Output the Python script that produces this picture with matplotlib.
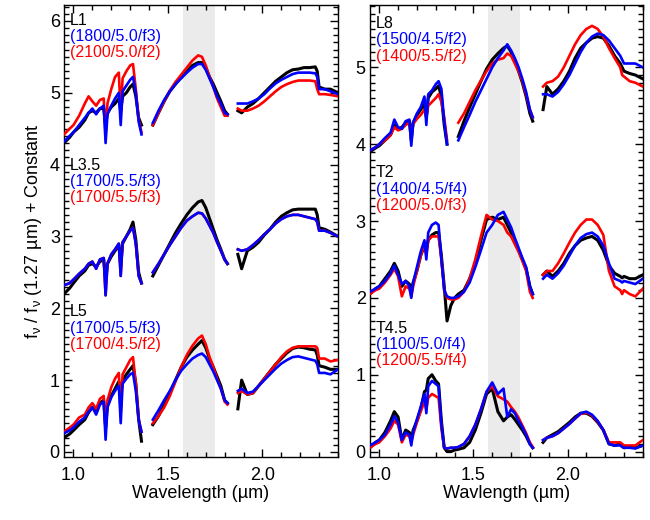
import numpy as np
import matplotlib
matplotlib.use('Agg')
import matplotlib.pyplot as plt
from matplotlib.ticker import MultipleLocator

plt.rcParams['font.family'] = ['Liberation Sans', 'DejaVu Sans']
plt.rcParams['mathtext.fontset'] = 'custom'
plt.rcParams['mathtext.rm'] = 'Liberation Sans'
plt.rcParams['mathtext.it'] = 'Liberation Sans'

nan = np.nan

# wavelength grid (um); gaps are NaN in the spectra
wave = [0.95, 0.98, 1.00, 1.03, 1.06, 1.08, 1.10, 1.12, 1.14, 1.16, 1.17, 1.18,
        1.20, 1.22, 1.24, 1.25, 1.26, 1.28, 1.30, 1.315, 1.33, 1.345, 1.36,
        1.38, 1.40,
        1.42, 1.45, 1.48, 1.51, 1.54, 1.57, 1.60, 1.63, 1.66, 1.68, 1.70, 1.72,
        1.74, 1.76, 1.78, 1.80, 1.815,
        1.84,
        1.87, 1.89, 1.92, 1.95, 1.98, 2.01, 2.04, 2.07, 2.10, 2.13, 2.16, 2.19,
        2.22, 2.25, 2.28, 2.29, 2.30, 2.33, 2.36, 2.40]

# ---- left panel ----
l1_obs = [4.30, 4.38, 4.45, 4.52, 4.62, 4.72, 4.75, 4.72, 4.78, 4.78, 4.55, 4.72,
          4.80, 4.85, 4.92, 4.75, 4.95, 5.00, 5.08, 5.12, 4.95, 4.65, 4.55,
          nan, nan,
          4.55, 4.72, 4.88, 5.02, 5.12, 5.22, 5.30, 5.38, 5.42, 5.42, 5.35, 5.22,
          5.12, 5.00, 4.88, 4.75, 4.70,
          nan,
          4.75, 4.72, 4.80, 4.85, 4.92, 5.00, 5.08, 5.16, 5.22, 5.28, 5.32, 5.33,
          5.35, 5.35, 5.36, 5.30, 5.08, 5.05, 5.05, 5.00]
l1_blue = [4.32, 4.40, 4.45, 4.55, 4.65, 4.72, 4.78, 4.70, 4.78, 4.82, 4.30, 4.70,
           4.82, 4.92, 5.00, 4.55, 5.02, 5.10, 5.18, 5.22, 5.00, 4.60, 4.42,
           nan, nan,
           4.58, 4.75, 4.90, 5.02, 5.12, 5.20, 5.28, 5.35, 5.40, 5.40, 5.32, 5.20,
           5.08, 4.95, 4.85, 4.72, 4.70,
           nan,
           4.85, 4.85, 4.85, 4.88, 4.92, 4.98, 5.06, 5.13, 5.18, 5.22, 5.26, 5.28,
           5.28, 5.28, 5.27, 5.22, 5.05, 5.05, 5.02, 4.98]
l1_red = [4.42, 4.50, 4.55, 4.68, 4.85, 4.95, 4.88, 4.82, 4.90, 4.92, 4.40, 4.85,
          5.05, 5.22, 5.28, 4.70, 5.20, 5.30, 5.38, 5.40, 5.05, 4.62, 4.45,
          nan, nan,
          4.55, 4.72, 4.88, 5.03, 5.15, 5.25, 5.35, 5.45, 5.52, 5.50, 5.38, 5.22,
          5.08, 4.92, 4.80, 4.68, 4.68,
          nan,
          4.78, 4.75, 4.75, 4.78, 4.82, 4.88, 4.95, 5.02, 5.08, 5.12, 5.15, 5.17,
          5.17, 5.17, 5.16, 5.05, 4.98, 4.98, 4.97, 4.95]

l35_obs = [2.20, 2.28, 2.35, 2.45, 2.52, 2.60, 2.62, 2.58, 2.65, 2.68, 2.40, 2.62,
           2.72, 2.80, 2.88, 2.60, 2.90, 3.00, 3.10, 3.20, 2.95, 2.50, 2.35,
           nan, nan,
           2.45, 2.60, 2.75, 2.90, 3.05, 3.18, 3.30, 3.40, 3.48, 3.50, 3.40, 3.25,
           3.10, 2.95, 2.82, 2.68, 2.62,
           nan,
           2.75, 2.55, 2.80, 2.85, 2.92, 3.02, 3.10, 3.20, 3.28, 3.33, 3.37, 3.38,
           3.38, 3.38, 3.38, 3.30, 3.12, 3.10, 3.06, 3.00]
l35_blue = [2.32, 2.35, 2.40, 2.48, 2.55, 2.62, 2.65, 2.55, 2.68, 2.70, 2.18, 2.62,
            2.75, 2.82, 2.90, 2.45, 2.92, 3.00, 3.08, 3.12, 2.90, 2.45, 2.35,
            nan, nan,
            2.50, 2.62, 2.75, 2.88, 3.00, 3.12, 3.22, 3.28, 3.33, 3.32, 3.25, 3.15,
            3.05, 2.92, 2.80, 2.68, 2.62,
            nan,
            2.82, 2.80, 2.82, 2.88, 2.95, 3.03, 3.10, 3.18, 3.24, 3.28, 3.30, 3.30,
            3.28, 3.26, 3.24, 3.20, 3.08, 3.08, 3.05, 3.00]
l35_red = l35_blue  # same model (1700/5.5/f3)

l5_obs = [0.20, 0.25, 0.30, 0.38, 0.45, 0.55, 0.62, 0.58, 0.68, 0.72, 0.35, 0.65,
          0.78, 0.88, 0.98, 0.75, 1.00, 1.08, 1.15, 1.20, 0.95, 0.45, 0.15,
          nan, nan,
          0.38, 0.50, 0.65, 0.82, 1.00, 1.18, 1.32, 1.42, 1.50, 1.55, 1.45, 1.30,
          1.18, 1.05, 0.92, 0.72, 0.68,
          nan,
          0.60, 1.00, 0.80, 0.82, 0.92, 1.02, 1.12, 1.22, 1.30, 1.38, 1.44, 1.46,
          1.45, 1.43, 1.42, 1.35, 1.20, 1.18, 1.15, 1.15]
l5_blue = [0.26, 0.30, 0.34, 0.42, 0.48, 0.56, 0.62, 0.52, 0.66, 0.70, 0.17, 0.62,
           0.76, 0.85, 0.92, 0.40, 0.95, 1.02, 1.08, 1.10, 0.85, 0.45, 0.28,
           nan, nan,
           0.45, 0.58, 0.72, 0.85, 1.00, 1.13, 1.22, 1.30, 1.35, 1.37, 1.32, 1.22,
           1.12, 1.00, 0.88, 0.72, 0.68,
           nan,
           0.85, 0.88, 0.82, 0.84, 0.92, 1.00, 1.08, 1.16, 1.23, 1.28, 1.32, 1.33,
           1.31, 1.29, 1.27, 1.22, 1.10, 1.10, 1.08, 1.15]
l5_red = [0.28, 0.34, 0.38, 0.48, 0.52, 0.62, 0.68, 0.60, 0.74, 0.78, 0.30, 0.72,
          0.90, 1.02, 1.10, 0.55, 1.08, 1.18, 1.28, 1.32, 0.95, 0.45, 0.28,
          nan, nan,
          0.40, 0.50, 0.62, 0.78, 0.98, 1.18, 1.35, 1.48, 1.58, 1.62, 1.50, 1.32,
          1.18, 1.02, 0.88, 0.70, 0.66,
          nan,
          0.82, 0.85, 0.80, 0.82, 0.92, 1.02, 1.12, 1.22, 1.32, 1.40, 1.45, 1.47,
          1.47, 1.47, 1.47, 1.45, 1.30, 1.30, 1.26, 1.28]

# ---- right panel ----
l8_obs = [3.90, 3.95, 3.98, 4.05, 4.12, 4.25, 4.20, 4.22, 4.28, 4.30, 4.05, 4.28,
          4.38, 4.45, 4.52, 4.35, 4.60, 4.68, 4.72, 4.76, 4.62, 4.25, 4.00,
          nan, nan,
          4.10, 4.30, 4.48, 4.65, 4.82, 4.98, 5.10, 5.18, 5.25, 5.28, 5.20, 5.08,
          4.95, 4.80, 4.62, 4.40, 4.30,
          nan,
          4.45, 4.75, 4.65, 4.72, 4.82, 4.95, 5.12, 5.25, 5.32, 5.38, 5.40, 5.38,
          5.28, 5.15, 5.05, 5.00, 4.95, 4.92, 4.90, 4.85]
l8_blue = [3.92, 3.96, 4.00, 4.08, 4.15, 4.32, 4.22, 4.20, 4.30, 4.32, 3.98, 4.28,
           4.40, 4.48, 4.62, 4.25, 4.65, 4.70, 4.78, 4.82, 4.72, 4.30, 4.00,
           nan, nan,
           4.05, 4.22, 4.38, 4.55, 4.70, 4.85, 5.00, 5.12, 5.22, 5.30, 5.22, 5.12,
           5.00, 4.85, 4.68, 4.45, 4.35,
           nan,
           4.65, 4.65, 4.62, 4.68, 4.78, 4.90, 5.05, 5.20, 5.32, 5.40, 5.44, 5.42,
           5.35, 5.25, 5.15, 5.10, 5.05, 5.05, 5.05, 5.00]
l8_red = [3.92, 3.96, 4.00, 4.05, 4.12, 4.22, 4.18, 4.20, 4.25, 4.28, 4.10, 4.26,
          4.33, 4.38, 4.45, 4.35, 4.50, 4.55, 4.60, 4.65, 4.55, 4.35, 4.05,
          nan, nan,
          4.28, 4.40, 4.55, 4.70, 4.83, 4.95, 5.05, 5.10, 5.12, 5.18, 5.15, 5.05,
          4.95, 4.82, 4.65, 4.45, 4.35,
          nan,
          4.75, 4.80, 4.82, 4.88, 5.00, 5.15, 5.30, 5.42, 5.50, 5.54, 5.50, 5.40,
          5.25, 5.12, 5.00, 4.90, 4.88, 4.82, 4.80, 4.75]

t2_obs = [2.05, 2.12, 2.15, 2.25, 2.35, 2.45, 2.35, 2.15, 2.22, 2.18, 2.08, 2.20,
          2.35, 2.55, 2.68, 2.62, 2.75, 2.82, 2.85, 2.85, 2.55, 2.15, 1.70,
          1.90, 2.00,
          2.05, 2.10, 2.25, 2.45, 2.75, 3.02, 3.05, 3.02, 3.05, 2.95, 2.85, 2.72,
          2.62, 2.50, 2.38, 2.15, 2.05,
          nan,
          2.30, 2.35, 2.28, 2.35, 2.45, 2.58, 2.68, 2.75, 2.78, 2.80, 2.75, 2.62,
          2.42, 2.32, 2.28, 2.26, 2.28, 2.25, 2.25, 2.30]
t2_blue = [2.08, 2.12, 2.15, 2.22, 2.32, 2.42, 2.30, 2.18, 2.22, 2.15, 2.00, 2.20,
           2.40, 2.60, 2.75, 2.50, 2.85, 2.95, 2.98, 2.95, 2.50, 2.10, 2.02,
           2.00, 2.00,
           2.02, 2.08, 2.20, 2.40, 2.62, 2.85, 2.95, 3.08, 3.12, 3.02, 2.92, 2.78,
           2.65, 2.52, 2.40, 2.15, 2.05,
           nan,
           2.25, 2.30, 2.25, 2.32, 2.42, 2.55, 2.68, 2.78, 2.83, 2.85, 2.80, 2.68,
           2.45, 2.25, 2.22, 2.20, 2.22, 2.20, 2.18, 2.25]
t2_red = [2.05, 2.10, 2.12, 2.20, 2.30, 2.38, 2.28, 2.02, 2.15, 2.12, 2.02, 2.15,
          2.35, 2.55, 2.70, 2.55, 2.75, 2.80, 2.80, 2.80, 2.50, 2.10, 2.00,
          1.98, 1.98,
          2.00, 2.08, 2.25, 2.50, 2.80, 3.08, 3.02, 3.00, 2.95, 2.85, 2.80, 2.70,
          2.60, 2.48, 2.35, 2.08, 2.00,
          nan,
          2.30, 2.35, 2.35, 2.45, 2.58, 2.72, 2.85, 2.95, 3.02, 3.02, 2.95, 2.82,
          2.35, 2.15, 2.10, 2.05, 2.10, 2.05, 2.02, 2.12]

t45_obs = [0.05, 0.12, 0.15, 0.25, 0.40, 0.52, 0.45, 0.15, 0.28, 0.25, 0.15, 0.28,
           0.40, 0.55, 0.78, 0.80, 0.95, 1.00, 0.92, 0.88, 0.40, 0.05, 0.00,
           0.00, 0.02,
           0.03, 0.05, 0.12, 0.28, 0.50, 0.75, 0.82, 0.52, 0.40, 0.45, 0.48, 0.42,
           0.35, 0.28, 0.20, 0.10, 0.05,
           nan,
           0.12, 0.18, 0.22, 0.26, 0.32, 0.38, 0.45, 0.50, 0.50, 0.46, 0.38, 0.28,
           0.10, 0.08, 0.10, 0.08, 0.05, 0.06, 0.05, 0.08]
t45_blue = [0.08, 0.12, 0.15, 0.22, 0.35, 0.46, 0.38, 0.15, 0.25, 0.22, 0.08, 0.25,
            0.42, 0.58, 0.75, 0.50, 0.85, 0.92, 0.88, 0.85, 0.35, 0.05, 0.04,
            0.05, 0.05,
            0.06, 0.10, 0.20, 0.35, 0.55, 0.78, 0.90, 0.75, 0.82, 0.45, 0.55, 0.50,
            0.40, 0.32, 0.22, 0.10, 0.05,
            nan,
            0.15, 0.18, 0.20, 0.24, 0.30, 0.36, 0.43, 0.50, 0.52, 0.48, 0.40, 0.28,
            0.10, 0.08, 0.08, 0.06, 0.05, 0.05, 0.04, 0.08]
t45_red = [0.05, 0.10, 0.12, 0.20, 0.30, 0.40, 0.35, 0.12, 0.22, 0.20, 0.12, 0.22,
           0.38, 0.52, 0.65, 0.55, 0.70, 0.75, 0.72, 0.70, 0.30, 0.05, 0.04,
           0.05, 0.05,
           0.06, 0.10, 0.20, 0.35, 0.55, 0.78, 0.85, 0.72, 0.68, 0.65, 0.58, 0.52,
           0.44, 0.34, 0.24, 0.12, 0.06,
           nan,
           0.15, 0.18, 0.20, 0.24, 0.30, 0.36, 0.43, 0.49, 0.51, 0.47, 0.39, 0.28,
           0.12, 0.12, 0.12, 0.10, 0.08, 0.08, 0.08, 0.15]

left_objects = [
    ("L1", "(1800/5.0/f3)", "(2100/5.0/f2)", l1_obs, l1_blue, l1_red, 0.967),
    ("L3.5", "(1700/5.5/f3)", "(1700/5.5/f3)", l35_obs, l35_blue, l35_red, 0.646),
    ("L5", "(1700/5.5/f3)", "(1700/4.5/f2)", l5_obs, l5_blue, l5_red, 0.321),
]
right_objects = [
    ("L8", "(1500/4.5/f2)", "(1400/5.5/f2)", l8_obs, l8_blue, l8_red, 0.959),
    ("T2", "(1400/4.5/f4)", "(1200/5.0/f3)", t2_obs, t2_blue, t2_red, 0.629),
    ("T4.5", "(1100/5.0/f4)", "(1200/5.5/f4)", t45_obs, t45_blue, t45_red, 0.285),
]

fig = plt.figure(figsize=(6.5, 5.2), dpi=100)
ax1 = fig.add_axes([0.0985, 0.1212, 0.4215, 0.869])
ax2 = fig.add_axes([0.569, 0.1212, 0.42, 0.869])

for ax, objs, ylim, xlab in [(ax1, left_objects, (-0.07, 6.22), "Wavelength (µm)"),
                             (ax2, right_objects, (-0.07, 5.81), "Wavlength (µm)")]:
    ax.axvspan(1.58, 1.75, color='#ebebeb', lw=0, zorder=0)
    for name, mblue, mred, obs, blue, red, ty in objs:
        ax.plot(wave, obs, color='black', lw=2.2, zorder=2)
        ax.plot(wave, red, color='red', lw=1.9, zorder=3)
        ax.plot(wave, blue, color='blue', lw=1.9, zorder=4)
        ax.text(0.022, ty, name, transform=ax.transAxes, fontsize=11.5,
                color='black', ha='left', va='center')
        ax.text(0.022, ty - 0.036, mblue, transform=ax.transAxes, fontsize=11.5,
                color='blue', ha='left', va='center')
        ax.text(0.022, ty - 0.072, mred, transform=ax.transAxes, fontsize=11.5,
                color='red', ha='left', va='center')
    ax.set_xlim(0.95, 2.40)
    ax.set_ylim(*ylim)
    ax.xaxis.set_major_locator(MultipleLocator(0.5))
    ax.xaxis.set_minor_locator(MultipleLocator(0.1))
    ax.yaxis.set_major_locator(MultipleLocator(1))
    ax.yaxis.set_minor_locator(MultipleLocator(0.1))
    ax.xaxis.set_major_formatter(plt.FormatStrFormatter('%.1f'))
    ax.tick_params(which='both', direction='in', top=True, right=True,
                   labelsize=13, width=1)
    ax.tick_params(which='major', length=6)
    ax.tick_params(which='minor', length=3.5)
    ax.tick_params(axis='x', which='major', pad=7)
    ax.tick_params(axis='y', which='major', pad=3)
    ax.set_xlabel(xlab, fontsize=13, labelpad=1)
    for s in ax.spines.values():
        s.set_linewidth(1.0)

ax1.set_ylabel(r"f$_\mathrm{\nu}$ / f$_\mathrm{\nu}$ (1.27 µm) + Constant",
               fontsize=13, labelpad=4)

fig.savefig("out.png", dpi=100)
